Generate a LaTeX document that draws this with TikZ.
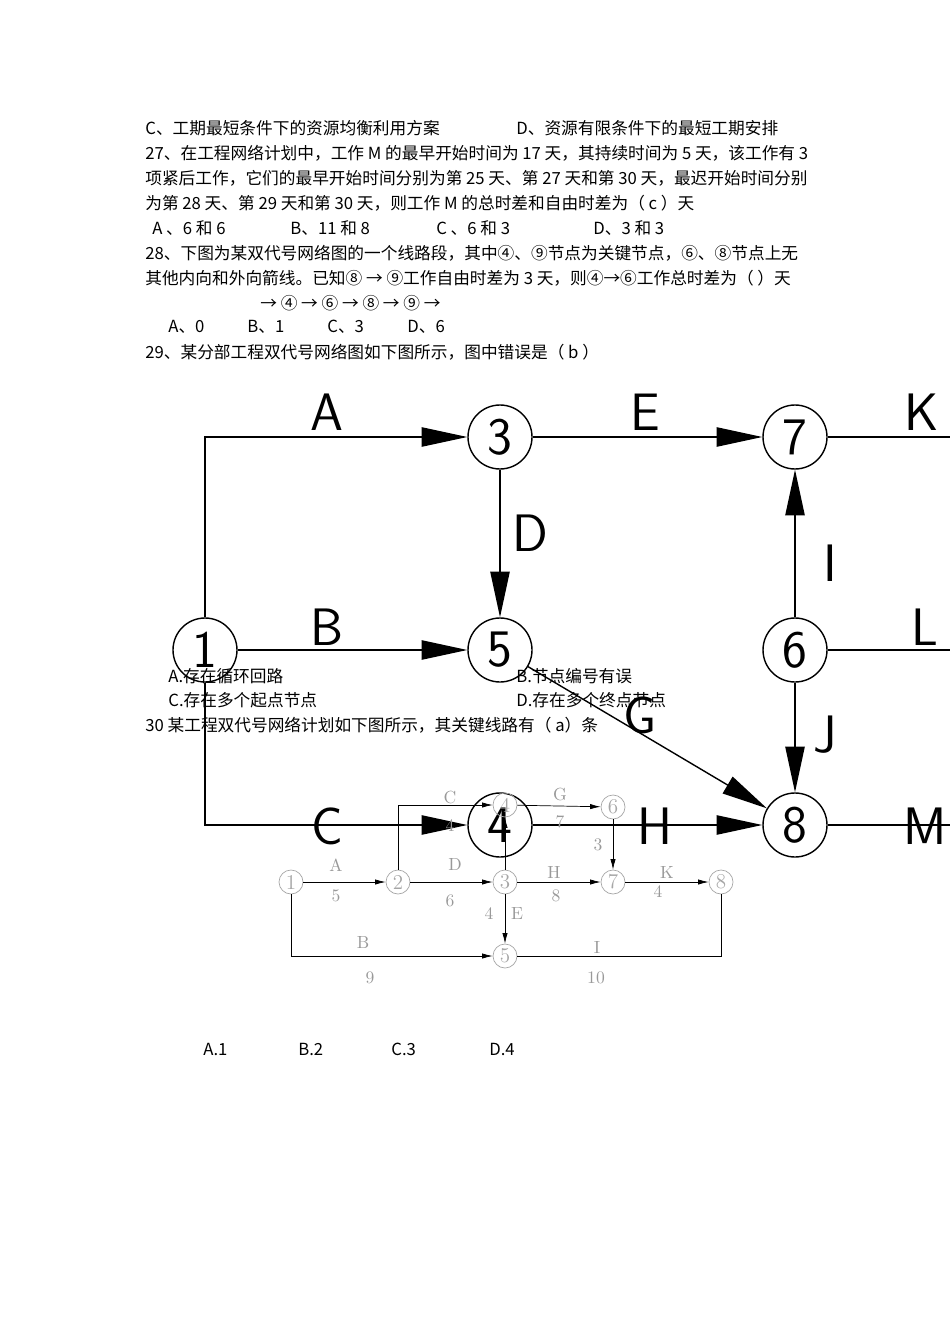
\documentclass[tikz,border=0pt]{standalone}
\usepackage{fontspec}
\newfontfamily\cjk{Noto Sans CJK SC}
\usetikzlibrary{arrows.meta}
\begin{document}
\begin{tikzpicture}[x=0.02cm,y=-0.02cm,
 big/.style={circle,draw,thick,minimum size=64*0.02cm,inner sep=0pt,font=\sffamily\fontsize{30}{30}\selectfont},
 lab/.style={font=\sffamily\fontsize{30}{30}\selectfont},
 bar/.style={thick,-{Triangle[length=26pt,width=11pt]}},
 sm/.style={circle,draw=gray!70,minimum size=24*0.02cm,inner sep=0pt,text=gray!70,font=\fontsize{12}{12}\selectfont},
 sa/.style={-{Latex[length=6pt,width=3pt]}},
 sl/.style={text=gray!80,font=\fontsize{10}{10}\selectfont},
 tx/.style={anchor=west,inner sep=0pt,font=\cjk\fontsize{9.5}{11}\selectfont}]
\useasboundingbox (0,0) rectangle (950,1344);
% big diagram
\node[big] (n1) at (205,650) {1};
\node[big] (n3) at (500,437) {3};
\node[big] (n7) at (795,437) {7};
\node[big] (n5) at (500,650) {5};
\node[big] (n6) at (795,650) {6};
\node[big] (n4) at (500,825) {4};
\node[big] (n8) at (795,825) {8};
\coordinate (eK) at (950,437);
\coordinate (eL) at (950,650);
\coordinate (eM) at (950,825);
\draw[bar] (n1.north) |- (n3);
\draw[bar] (n1) -- (n5);
\draw[bar] (n1.south) |- (n4);
\draw[bar] (n3) -- (n5);
\draw[bar] (n3) -- (n7);
\draw[bar] (n5) -- (n8);
\draw[bar] (n4) -- (n8);
\draw[bar] (n6) -- (n7);
\draw[bar] (n6) -- (n8);
\draw[thick] (n7) -- (eK);
\draw[thick] (n6) -- (eL);
\draw[thick] (n8) -- (eM);
\node[lab] at (327,412) {A};
\node[lab] at (645,412) {E};
\node[lab] at (922,412) {K};
\node[lab] at (530,533) {D};
\node[lab] at (830,563) {I};
\node[lab] at (327,627) {B};
\node[lab] at (925,627) {L};
\node[lab] at (640,715) {G};
\node[lab] at (825,735) {J};
\node[lab] at (327,826) {C};
\node[lab] at (655,826) {H};
\node[lab] at (925,826) {M};
% small diagram
\node[sm] (s1) at (291,882) {1};
\node[sm] (s2) at (398,882) {2};
\node[sm] (s3) at (505,882) {3};
\node[sm] (s4) at (505,805) {4};
\node[sm] (s5) at (505,956) {5};
\node[sm] (s6) at (613,807) {6};
\node[sm] (s7) at (613,882) {7};
\node[sm] (s8) at (721,882) {8};
\draw[sa] (s1) -- (s2);
\draw[sa] (s2.north) |- (s4);
\draw[sa] (s2) -- (s3);
\draw[sa] (s3) -- (s4);
\draw[sa] (s3) -- (s5);
\draw[sa] (s4) -- (s6);
\draw[sa] (s3) -- (s7);
\draw[sa] (s6) -- (s7);
\draw[sa] (s7) -- (s8);
\draw[sa] (s1.south) |- (s5);
\draw (s5) -| (s8.south);
\node[sl] at (336,865) {A}; \node[sl] at (336,896) {5};
\node[sl] at (450,797) {C}; \node[sl] at (450,826) {4};
\node[sl] at (455,864) {D}; \node[sl] at (450,901) {6};
\node[sl] at (560,794) {G}; \node[sl] at (560,822) {7};
\node[sl] at (554,872) {H}; \node[sl] at (556,896) {8};
\node[sl] at (598,845) {3};
\node[sl] at (667,872) {K}; \node[sl] at (658,892) {4};
\node[sl] at (489,914) {4}; \node[sl] at (517,914) {E};
\node[sl] at (363,942) {B}; \node[sl] at (370,978) {9};
\node[sl] at (597,947) {I}; \node[sl] at (596,978) {10};
% text
\node[tx] (t1) at (145,128) {C、工期最短条件下的资源均衡利用方案};
\node[tx] (t1b) at (516,128) {D、资源有限条件下的最短工期安排};
\node[tx] (t2) at (145,153) {27、在工程网络计划中，工作 M 的最早开始时间为 17 天，其持续时间为 5 天，该工作有 3};
\node[tx] (t3) at (145,178) {项紧后工作，它们的最早开始时间分别为第 25 天、第 27 天和第 30 天，最迟开始时间分别};
\node[tx] (t4) at (145,203) {为第 28 天、第 29 天和第 30 天，则工作 M 的总时差和自由时差为（ c ）天};
\node[tx] at (152,228) {A 、6 和 6};
\node[tx] at (290,228) {B、11 和 8};
\node[tx] at (436,228) {C 、6 和 3};
\node[tx] at (593,228) {D、3 和 3};
\node[tx] (t6) at (145,253) {28、下图为某双代号网络图的一个线路段，其中④、⑨节点为关键节点，⑥、⑧节点上无};
\node[tx] (t7) at (145,278) {其他内向和外向箭线。已知⑧ → ⑨工作自由时差为 3 天，则④→⑥工作总时差为（ ）天};
\node[tx] at (260,303) {→ ④ → ⑥ → ⑧ → ⑨ →};
\node[tx] at (168,327) {A、0};
\node[tx] at (247,327) {B、1};
\node[tx] at (327,327) {C、3};
\node[tx] at (407,327) {D、6};
\node[tx] at (145,352) {29、某分部工程双代号网络图如下图所示，图中错误是（ b ）};
\node[tx] at (168,676) {A.存在循环回路};
\node[tx] at (516,676) {B.节点编号有误};
\node[tx] at (168,700) {C.存在多个起点节点};
\node[tx] at (516,700) {D.存在多个终点节点};
\node[tx] at (145,725) {30 某工程双代号网络计划如下图所示，其关键线路有（ a）条};
\node[tx] at (203,1049) {A.1};
\node[tx] at (298,1049) {B.2};
\node[tx] at (391,1049) {C.3};
\node[tx] at (489,1049) {D.4};
\end{tikzpicture}
\end{document}
